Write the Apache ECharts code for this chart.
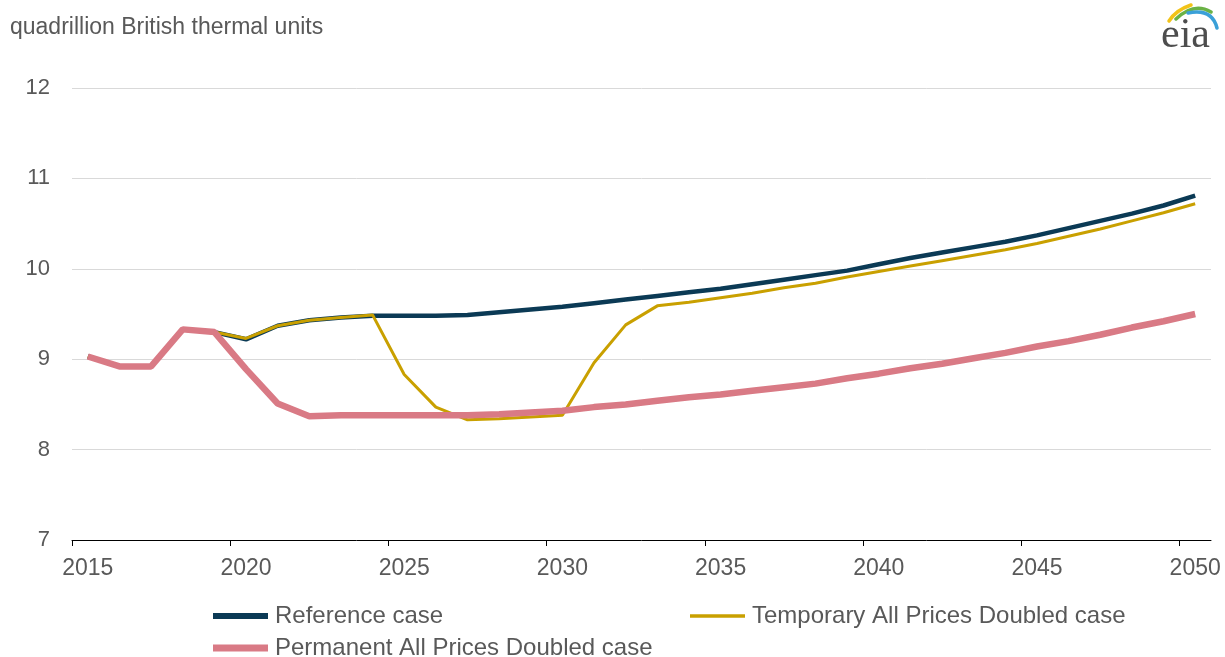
<!DOCTYPE html>
<html>
<head>
<meta charset="utf-8">
<script src="https://cdn.jsdelivr.net/npm/echarts@6/dist/echarts.min.js"></script>
<style>
html,body{margin:0;padding:0;background:#fff;}
#c{width:1225px;height:657px;}
</style>
</head>
<body>
<div id="c"></div>
<script>
const years = [2015,2016,2017,2018,2019,2020,2021,2022,2023,2024,2025,2026,2027,2028,2029,2030,2031,2032,2033,2034,2035,2036,2037,2038,2039,2040,2041,2042,2043,2044,2045,2046,2047,2048,2049,2050];
const tickLabels = [2015,2020,2025,2030,2035,2040,2045,2050];
const yTicks = [7,8,9,10,11,12];

const referenceCase = [9.03,8.92,8.92,9.33,9.30,9.22,9.37,9.43,9.46,9.48,9.48,9.48,9.49,9.52,9.55,9.58,9.62,9.66,9.70,9.74,9.78,9.83,9.88,9.93,9.98,10.05,10.12,10.18,10.24,10.30,10.37,10.45,10.53,10.61,10.70,10.81];
const temporaryCase = [9.03,8.92,8.92,9.33,9.30,9.23,9.37,9.43,9.46,9.49,8.83,8.47,8.33,8.34,8.36,8.38,8.96,9.38,9.59,9.63,9.68,9.73,9.79,9.84,9.91,9.97,10.03,10.09,10.15,10.21,10.28,10.36,10.44,10.53,10.62,10.72];
const permanentCase = [9.03,8.92,8.92,9.33,9.30,8.89,8.51,8.37,8.38,8.38,8.38,8.38,8.38,8.39,8.41,8.43,8.47,8.50,8.54,8.58,8.61,8.65,8.69,8.73,8.79,8.84,8.90,8.95,9.01,9.07,9.14,9.20,9.27,9.35,9.42,9.50];

const names = ['Reference case','Temporary All Prices Doubled case','Permanent All Prices Doubled case'];
const colors = ['#0b3a55','#c9a000','#d97a85'];
const txt = '#595959';
const font = 'Liberation Sans, Arial, sans-serif';

const pairs = (arr) => years.map((y, i) => [y, arr[i]]);
const tickPositions = tickLabels.map(y => y - 0.5);

const chart = echarts.init(document.getElementById('c'));
const legendBase = {
  orient: 'horizontal', itemWidth: 55, itemGap: 0, padding: 0,
  textStyle: {fontSize: 24, color: txt, fontFamily: font, padding: [0,0,0,2]},
  icon: 'rect'
};
chart.setOption({
  animation: false,
  textStyle: {fontFamily: font},
  grid: {left: 72, right: 14, top: 88, bottom: 117},
  graphic: [
    {type: 'text', left: 10, top: 16, style: {text: 'quadrillion British thermal units', fontSize: 23, fill: txt, fontFamily: font}},
    {type: 'text', style: {x: 1161, y: 36, text: 'eia', fontSize: 42, fill: '#4d4d4d', verticalAlign: 'middle', fontFamily: 'Liberation Serif, DejaVu Serif, serif'}},
    {type: 'bezierCurve', shape: {x1: 1169, y1: 21, x2: 1191, y2: 5, cpx1: 1176, cpy1: 10}, style: {stroke: '#f2c318', lineWidth: 3.5, fill: null, lineCap: 'round'}},
    {type: 'bezierCurve', shape: {x1: 1176, y1: 19, x2: 1211, y2: 12, cpx1: 1194, cpy1: 2}, style: {stroke: '#6ab245', lineWidth: 3.5, fill: null, lineCap: 'round'}},
    {type: 'bezierCurve', shape: {x1: 1188, y1: 13, x2: 1217, y2: 28, cpx1: 1212, cpy1: 8}, style: {stroke: '#3aa0d8', lineWidth: 3.5, fill: null, lineCap: 'round'}}
  ],
  legend: [
    Object.assign({}, legendBase, {left: 213, top: 604, itemHeight: 6, data: [names[0]]}),
    Object.assign({}, legendBase, {left: 690, top: 604, itemHeight: 3.5, data: [names[1]]}),
    Object.assign({}, legendBase, {left: 213, top: 636, itemHeight: 7, data: [names[2]]})
  ],
  xAxis: {
    type: 'value', min: 2014.5, max: 2050.5,
    axisLine: {show: true, onZero: false, lineStyle: {color: '#000', width: 1}},
    axisTick: {show: true, length: 6, lineStyle: {color: '#000'}, customValues: tickPositions},
    axisLabel: {fontSize: 23, color: txt, margin: 17, fontFamily: font, customValues: tickLabels, formatter: (v) => String(v)},
    splitLine: {show: false}
  },
  yAxis: {
    type: 'value', min: 7, max: 12, interval: 1,
    axisLine: {show: false}, axisTick: {show: false},
    axisLabel: {fontSize: 22, color: txt, margin: 22, fontFamily: font, customValues: yTicks},
    splitLine: {lineStyle: {color: '#d9d9d9', width: 1}}
  },
  series: [
    {name: names[0], type: 'line', data: pairs(referenceCase), showSymbol: false, color: colors[0], lineStyle: {width: 4.5, color: colors[0]}, z: 2},
    {name: names[1], type: 'line', data: pairs(temporaryCase), showSymbol: false, color: colors[1], lineStyle: {width: 3, color: colors[1]}, z: 3},
    {name: names[2], type: 'line', data: pairs(permanentCase), showSymbol: false, color: colors[2], lineStyle: {width: 6.5, color: colors[2]}, z: 4}
  ]
});
</script>
</body>
</html>
